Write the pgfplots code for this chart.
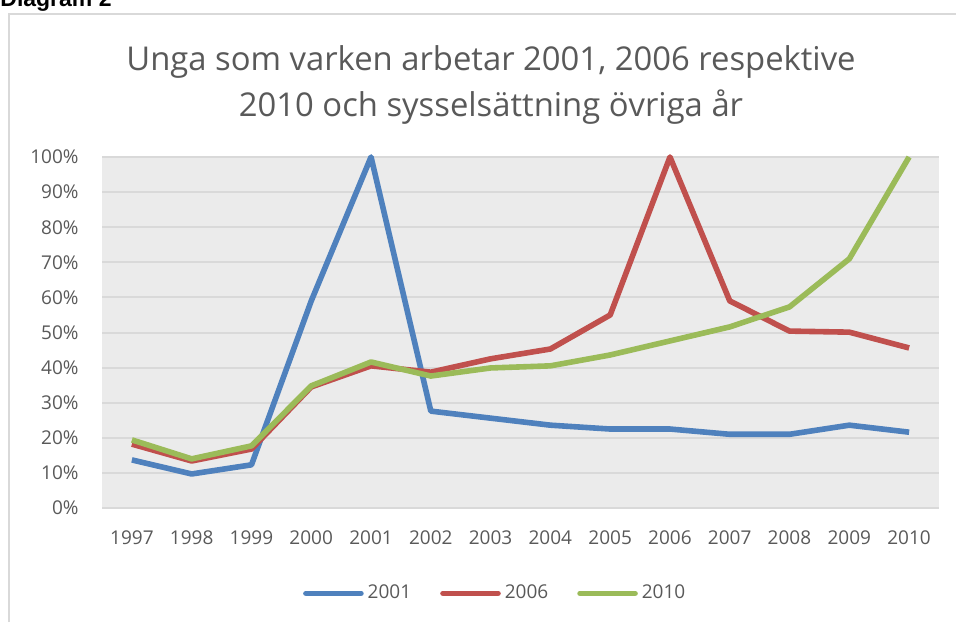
\documentclass[border=0pt]{standalone}
\usepackage{pgfplots}
\pgfplotsset{compat=1.18}
\usepackage{fontspec}
\setmainfont{Open Sans}
\setsansfont{Liberation Sans}

\definecolor{c01}{HTML}{4F81BD}
\definecolor{c06}{HTML}{C0504D}
\definecolor{c10}{HTML}{9BBB59}
\definecolor{txt}{HTML}{595959}
\definecolor{grd}{HTML}{D9D9D9}
\definecolor{bg}{HTML}{EBEBEB}

\begin{document}
\begin{tikzpicture}
\path[use as bounding box] (0,0) rectangle (478pt,311pt);
% outer chart frame
\draw[grd, line width=1pt] (4.5pt,0) -- (4.5pt,304pt) -- (478pt,304pt);
\node[anchor=base west, inner sep=0pt] at (0,307.5pt) {\fontsize{11.5}{13}\selectfont\sffamily\bfseries Diagram 2};
% title
\node[anchor=base, inner sep=0pt, text=txt] at (245.5pt,275.5pt) {\fontsize{16.4}{20}\selectfont Unga som varken arbetar 2001, 2006 respektive};
\node[anchor=base, inner sep=0pt, text=txt] at (245.5pt,252.5pt) {\fontsize{16.4}{20}\selectfont 2010 och sysselsättning övriga år};

\begin{axis}[
    at={(51pt,57pt)}, anchor=south west,
    scale only axis, width=418.5pt, height=175.5pt,
    xmin=1996.5, xmax=2010.5, ymin=0, ymax=100,
    axis background/.style={fill=bg},
    axis line style={draw=none},
    tick style={draw=none},
    ymajorgrids, grid style={grd, line width=1pt},
    xtick={1997,...,2010},
    xticklabels={1997,1998,1999,2000,2001,2002,2003,2004,2005,2006,2007,2008,2009,2010},
    ytick={0,10,...,100},
    yticklabels={0\%,10\%,20\%,30\%,40\%,50\%,60\%,70\%,80\%,90\%,100\%},
    ticklabel style={font=\fontsize{9.5}{11}\selectfont, text=txt, inner sep=0pt},
    yticklabel style={xshift=-11.5pt},
    xticklabel style={yshift=-11pt},
    legend columns=3,
    legend style={at={(0.471,-0.243)}, anchor=center, draw=none, fill=none,
        font=\fontsize{9.5}{11}\selectfont, text=txt,
        /tikz/every even column/.append style={column sep=12.5pt}},
    legend image code/.code={\draw[#1, line cap=round] (0pt,0pt) -- (27.5pt,0pt);},
    every axis plot/.append style={line width=2.8pt, line join=round},
    clip=false,
]
\addplot[c01] coordinates {(1997,13.7)(1998,9.7)(1999,12.3)(2000,59)(2001,100)(2002,27.6)(2003,25.6)(2004,23.6)(2005,22.5)(2006,22.5)(2007,21)(2008,21)(2009,23.6)(2010,21.6)};
\addplot[c06] coordinates {(1997,18.2)(1998,13.4)(1999,16.8)(2000,34.5)(2001,40.5)(2002,38.7)(2003,42.5)(2004,45.3)(2005,55)(2006,100)(2007,59)(2008,50.4)(2009,50.1)(2010,45.6)};
\addplot[c10] coordinates {(1997,19.4)(1998,14)(1999,17.7)(2000,34.8)(2001,41.6)(2002,37.6)(2003,39.9)(2004,40.5)(2005,43.6)(2006,47.6)(2007,51.6)(2008,57.3)(2009,71)(2010,100)};
\legend{2001,2006,2010}
\end{axis}
\end{tikzpicture}
\end{document}
